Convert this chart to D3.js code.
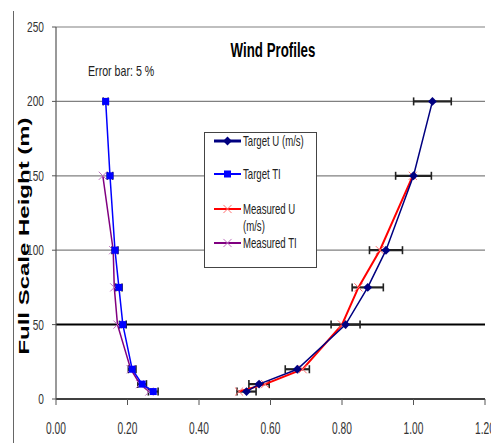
<!DOCTYPE html>
<html>
<head>
<meta charset="utf-8">
<script src="https://cdn.jsdelivr.net/npm/d3@7"></script>
<style>
  body { margin: 0; background: #fff; }
  text { font-family: Arial, "Liberation Sans", sans-serif; }
</style>
</head>
<body>
<div id="chart"></div>
<script>
// data
var heights = [5, 10, 20, 50, 75, 100, 150, 200];
var targetU = [0.533, 0.568, 0.675, 0.81, 0.872, 0.923, 1.0, 1.053];
var targetTI = [0.272, 0.241, 0.213, 0.187, 0.176, 0.165, 0.151, 0.139];
var measuredHeights = [5, 10, 20, 50, 75, 100, 150];
var measuredU = [0.512, 0.585, 0.69, 0.80, 0.846, 0.906, 0.998];
var measuredTI = [0.261, 0.235, 0.209, 0.172, 0.163, 0.160, 0.131];
var xTicks = [0, 0.2, 0.4, 0.6, 0.8, 1.0, 1.2];
var yTicks = [0, 50, 100, 150, 200, 250];
var errorPct = 0.05;

var width = 491, height = 443;

var svg = d3.select("#chart")
  .append("svg")
    .attr("width", width)
    .attr("height", height);

var x = d3.scaleLinear().domain([0, 1.2]).range([56, 485]);
var y = d3.scaleLinear().domain([0, 250]).range([399, 27]);

// squeezed text, the original picture is narrower than it is tall
let label = (tx, ty, str, size, sx, opts) => {
  opts = opts || {};
  let t = svg.append("text")
    .attr("transform", "translate(" + tx + "," + ty + ")" + (opts.rotate ? " rotate(" + opts.rotate + ")" : "") + " scale(" + sx + ",1)")
    .attr("font-size", size)
    .attr("fill", opts.fill || "#222")
    .attr("text-anchor", opts.anchor || "start")
    .text(str);
  if (opts.bold) t.attr("font-weight", "bold");
  return t;
}

// outer frame line on the left
svg.append("line")
  .attr("x1", 13.5).attr("x2", 13.5)
  .attr("y1", 11).attr("y2", height)
  .attr("stroke", "#666").attr("stroke-width", 1);

// gridlines
svg.selectAll(".grid")
  .data(yTicks.filter(d => d > 0))
  .enter()
  .append("line")
    .attr("x1", x(0)).attr("x2", x(1.2))
    .attr("y1", d => y(d)).attr("y2", d => y(d))
    .attr("stroke", d => d == 50 ? "#000" : "#808080")
    .attr("stroke-width", d => d == 50 ? 2 : 1.2);

// axes
svg.append("line")
  .attr("x1", x(0)).attr("x2", x(1.2))
  .attr("y1", y(0)).attr("y2", y(0))
  .attr("stroke", "#000").attr("stroke-width", 1.5);
svg.append("line")
  .attr("x1", x(0)).attr("x2", x(0))
  .attr("y1", y(0)).attr("y2", y(250))
  .attr("stroke", "#555").attr("stroke-width", 1.2);

svg.selectAll(".xtick")
  .data(xTicks)
  .enter()
  .append("line")
    .attr("x1", d => x(d)).attr("x2", d => x(d))
    .attr("y1", y(0)).attr("y2", y(0) + 6)
    .attr("stroke", "#555");
svg.selectAll(".ytick")
  .data(yTicks)
  .enter()
  .append("line")
    .attr("x1", x(0) - 4).attr("x2", x(0))
    .attr("y1", d => y(d)).attr("y2", d => y(d))
    .attr("stroke", "#555");

xTicks.forEach(d => label(x(d), 434, d3.format(".2f")(d), 17, 0.6, {anchor: "middle", fill: "#333"}));
yTicks.forEach(d => label(44, y(d) + 5, String(d), 14.5, 0.7, {anchor: "end", fill: "#333"}));

// titles
label(273, 57, "Wind Profiles", 20, 0.665, {anchor: "middle", bold: true, fill: "#000"});
label(88, 76, "Error bar: 5 %", 14.4, 0.74);
label(29, 236, "Full Scale Height (m)", 15, 1.6, {anchor: "middle", bold: true, fill: "#000", rotate: -90});

// error bars (5 %) on the target series
let errorBars = (vals, hs, capH) => {
  let g = svg.append("g");
  vals.forEach((v, i) => {
    let lo = x(v * (1 - errorPct)), hi = x(v * (1 + errorPct)), yy = y(hs[i]);
    g.append("line").attr("x1", lo).attr("x2", hi).attr("y1", yy).attr("y2", yy)
      .attr("stroke", "#222").attr("stroke-width", 2.2);
    [lo, hi].forEach(cx => g.append("line")
      .attr("x1", cx).attr("x2", cx).attr("y1", yy - capH).attr("y2", yy + capH)
      .attr("stroke", "#222").attr("stroke-width", 1.6));
  });
}
errorBars(targetU, heights, 4);
errorBars(targetTI, heights, 4);

let line = d3.line().x(d => x(d[0])).y(d => y(d[1]));

let series = [
  {name: "Measured TI", vals: measuredTI, hs: measuredHeights, color: "#800080", mark: "x", markColor: "#c070c0", w: 1.5},
  {name: "Target TI", vals: targetTI, hs: heights, color: "#0000ff", mark: "square", markColor: "#0000ff", w: 1.5},
  {name: "Measured U (m/s)", vals: measuredU, hs: measuredHeights, color: "#ff0000", mark: "x", markColor: "#ff7070", w: 2},
  {name: "Target U (m/s)", vals: targetU, hs: heights, color: "#000080", mark: "diamond", markColor: "#000080", w: 1.5}
];

let drawMark = (g, type, color, cx, cy) => {
  if (type == "square") {
    g.append("rect").attr("x", cx - 3.5).attr("y", cy - 3.5).attr("width", 7).attr("height", 7).attr("fill", color);
  } else if (type == "diamond") {
    g.append("path").attr("d", d3.symbol().type(d3.symbolDiamond2).size(50)()).attr("transform", "translate(" + cx + "," + cy + ")").attr("fill", color);
  } else {
    g.append("path").attr("d", d3.symbol().type(d3.symbolTimes).size(45)()).attr("transform", "translate(" + cx + "," + cy + ")")
      .attr("fill", "none").attr("stroke", color).attr("stroke-width", 1);
  }
}

series.forEach(s => {
  let pts = s.vals.map((v, i) => [v, s.hs[i]]);
  svg.append("path")
    .attr("d", line(pts))
    .attr("fill", "none")
    .attr("stroke", s.color)
    .attr("stroke-width", s.w);
  let g = svg.append("g");
  pts.forEach(p => drawMark(g, s.mark, s.markColor, x(p[0]), y(p[1])));
});

// legend
var lg = svg.append("g");
lg.append("rect")
  .attr("x", 204.5).attr("y", 132.5).attr("width", 112).attr("height", 135)
  .attr("fill", "#fff").attr("stroke", "#444").attr("stroke-width", 1);

var legendRows = [
  {s: series[3], ly: 141, lines: ["Target U (m/s)"], lw: 3},
  {s: series[1], ly: 174, lines: ["Target TI"], lw: 2},
  {s: series[2], ly: 209, lines: ["Measured U", "(m/s)"], lw: 2},
  {s: series[0], ly: 243, lines: ["Measured TI"], lw: 2}
];
legendRows.forEach(r => {
  lg.append("line")
    .attr("x1", 214).attr("x2", 241)
    .attr("y1", r.ly).attr("y2", r.ly)
    .attr("stroke", r.s.color).attr("stroke-width", r.lw);
  drawMark(lg, r.s.mark, r.s.markColor, 227.5, r.ly);
  r.lines.forEach((t, k) => label(243, r.ly + 5 + k * 17, t, 14, 0.686));
});
</script>
</body>
</html>
